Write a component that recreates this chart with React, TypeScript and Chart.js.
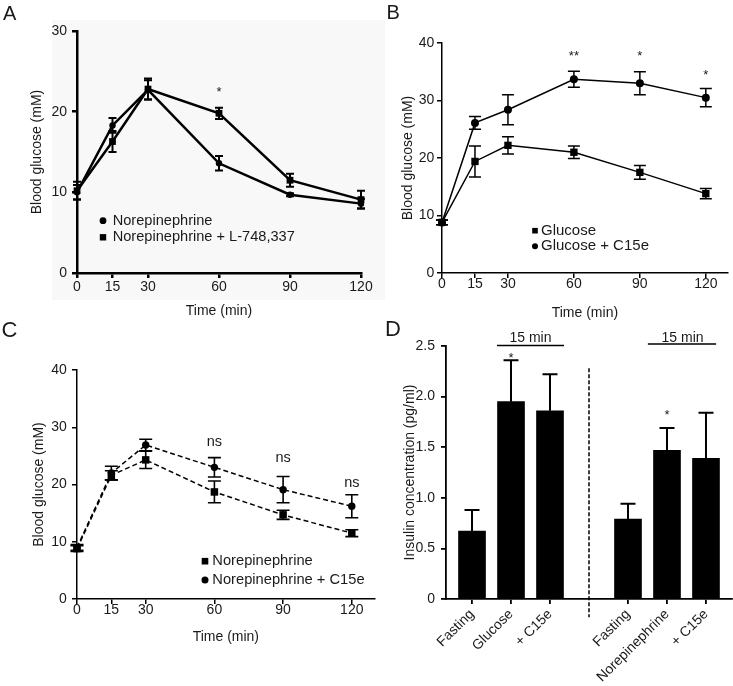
import React, { useEffect, useRef } from 'react';
import { Chart, registerables } from 'chart.js';

Chart.register(...registerables);

const FONT = '"Liberation Sans", Arial, Helvetica, sans-serif';
const TEXT = '#1a1a1a';

// ---------- shared ----------
const timeTicks = [0, 15, 30, 60, 90, 120];
const glucoseTitle = 'Blood glucose (mM)';
const timeTitle = 'Time (min)';

// ---------- Panel A ----------
const timesA = [0, 15, 30, 60, 90, 120];
const neA = [10.0, 18.3, 22.7, 13.6, 9.7, 8.6];
const neAErr = [0.9, 0.9, 1.2, 0.9, 0.2, 0.6];
const neLA = [10.2, 16.3, 22.8, 19.8, 11.5, 9.1];
const neLAErr = [1.1, 1.3, 1.3, 0.7, 0.8, 1.1];
const starsA_x = [60];
const starsA_y = [22.9];
const starsA_text = ['*'];

// ---------- Panel B ----------
const timesB = [0, 15, 30, 60, 90, 120];
const gluB = [8.8, 19.4, 22.2, 21.0, 17.5, 13.8];
const gluBErr = [0.4, 2.7, 1.5, 1.1, 1.2, 0.9];
const gluC15B = [8.8, 26.1, 28.4, 33.7, 33.0, 30.5];
const gluC15BErr = [0.4, 1.1, 2.6, 1.4, 2.0, 1.6];
const starsB_x = [60, 90, 120];
const starsB_y = [38.3, 38.3, 35.0];
const starsB_text = ['**', '*', '*'];

// ---------- Panel C ----------
const timesC = [0, 15, 30, 60, 90, 120];
const neC = [8.8, 21.6, 24.3, 18.7, 14.7, 11.5];
const neCErr = [0.5, 0.8, 1.5, 1.9, 0.8, 0.6];
const neC15C = [9.0, 22.0, 26.9, 23.0, 19.1, 16.2];
const neC15CErr = [0.5, 1.2, 1.0, 1.7, 2.3, 2.0];
const nsC_x = [60, 90, 120];
const nsC_y = [27.3, 24.6, 20.2];

// ---------- Panel D ----------
const labelsD = ['Fasting', 'Glucose', '+ C15e', '', 'Fasting', 'Norepinephrine', '+ C15e'];
const insulinD = [0.67, 1.95, 1.86, null, 0.79, 1.47, 1.39];
const insulinDErr = [0.21, 0.41, 0.36, null, 0.15, 0.22, 0.45];
const starsD_x = [1, 5];
const starsD_y = [2.42, 1.85];
const bracketD_x1 = [0.64, 4.51];
const bracketD_x2 = [2.36, 6.26];
const bracketD_y = [2.505, 2.52];
const bracketD_label = ['15 min', '15 min'];
const bracketD_labelX = [1.5, 5.4];
const bracketD_labelY = [2.585, 2.59];
const dividerD_x = 3;
const dividerD_y = [2.28, -0.18];
const yTicksD_step = 0.5;

// ---------- plugins ----------
function errorBarPlugin(cap: number, width: number, upOnly: boolean) {
  return {
    id: 'errorBars',
    afterDatasetsDraw(chart: any) {
      const ctx = chart.ctx;
      const xs = chart.scales.x;
      const ys = chart.scales.y;
      ctx.save();
      ctx.strokeStyle = '#000';
      ctx.lineWidth = width;
      chart.data.datasets.forEach((ds: any) => {
        if (!ds.errors) return;
        ds.data.forEach((pt: any, i: number) => {
          const e = ds.errors[i];
          if (e == null || pt.y == null) return;
          const x = xs.getPixelForValue(pt.x);
          const yTop = ys.getPixelForValue(pt.y + e);
          const yBot = ys.getPixelForValue(upOnly ? pt.y : pt.y - e);
          ctx.beginPath();
          ctx.moveTo(x, yTop);
          ctx.lineTo(x, yBot);
          ctx.moveTo(x - cap / 2, yTop);
          ctx.lineTo(x + cap / 2, yTop);
          if (!upOnly) {
            ctx.moveTo(x - cap / 2, yBot);
            ctx.lineTo(x + cap / 2, yBot);
          }
          ctx.stroke();
        });
      });
      ctx.restore();
    },
  };
}

type TextItem = { x: number; y: number; text: string; size: number; vc: number };
type LineItem = { x1: number; x2: number; y1: number; y2: number; width: number; dash?: number[] };

function annotationPlugin(texts: TextItem[], lines: LineItem[]) {
  return {
    id: 'annotations',
    afterDraw(chart: any) {
      const ctx = chart.ctx;
      const xs = chart.scales.x;
      const ys = chart.scales.y;
      ctx.save();
      ctx.strokeStyle = '#000';
      lines.forEach((l) => {
        ctx.lineWidth = l.width;
        ctx.setLineDash(l.dash || []);
        ctx.beginPath();
        ctx.moveTo(xs.getPixelForValue(l.x1), ys.getPixelForValue(l.y1));
        ctx.lineTo(xs.getPixelForValue(l.x2), ys.getPixelForValue(l.y2));
        ctx.stroke();
      });
      ctx.setLineDash([]);
      ctx.fillStyle = TEXT;
      ctx.textAlign = 'center';
      ctx.textBaseline = 'alphabetic';
      texts.forEach((t) => {
        ctx.font = `${t.size}px ${FONT}`;
        ctx.fillText(t.text, xs.getPixelForValue(t.x), ys.getPixelForValue(t.y) + t.vc * t.size);
      });
      ctx.restore();
    },
  };
}

type LegendCfg = {
  dx: number;
  dy: number;
  gap: number;
  textDx: number;
  size: number;
  items: { style: 'circle' | 'rect'; r: number; label: string }[];
};

function legendPlugin(cfg: LegendCfg) {
  return {
    id: 'customLegend',
    afterDraw(chart: any) {
      const ctx = chart.ctx;
      const { left, top } = chart.chartArea;
      ctx.save();
      cfg.items.forEach((it, i) => {
        const cx = left + cfg.dx;
        const cy = top + cfg.dy + i * cfg.gap;
        ctx.fillStyle = '#000';
        if (it.style === 'circle') {
          ctx.beginPath();
          ctx.arc(cx, cy, it.r, 0, Math.PI * 2);
          ctx.fill();
        } else {
          ctx.fillRect(cx - it.r, cy - it.r, it.r * 2, it.r * 2);
        }
        ctx.fillStyle = TEXT;
        ctx.font = `${cfg.size}px ${FONT}`;
        ctx.textAlign = 'left';
        ctx.textBaseline = 'middle';
        ctx.fillText(it.label, cx + cfg.textDx, cy);
      });
      ctx.restore();
    },
  };
}

// ---------- scale builders ----------
function yScale(o: {
  min: number; max: number; step: number; width: number; titlePad: number; tickPad: number;
  lw: number; title: string; fmt?: (v: number) => string;
}) {
  return {
    type: 'linear',
    min: o.min,
    max: o.max,
    ticks: {
      stepSize: o.step,
      padding: o.tickPad,
      color: TEXT,
      font: { size: 14, family: FONT },
      callback: o.fmt ? (v: any) => o.fmt!(Number(v)) : (v: any) => String(v),
    },
    grid: { display: true, drawOnChartArea: false, drawTicks: true, tickLength: 5, color: '#000', lineWidth: o.lw },
    border: { display: true, color: '#000', width: o.lw },
    title: {
      display: true,
      text: o.title,
      color: TEXT,
      font: { size: 14, family: FONT },
      padding: { top: o.titlePad, bottom: 0 },
    },
    afterFit: (s: any) => { s.width = o.width; },
  };
}

function xTimeScale(o: { max: number; height: number; titlePad: number; tickPad: number; lw: number }) {
  return {
    type: 'linear',
    min: 0,
    max: o.max,
    afterBuildTicks: (s: any) => { s.ticks = timeTicks.map((v) => ({ value: v })); },
    ticks: {
      padding: o.tickPad,
      autoSkip: false,
      maxRotation: 0,
      color: TEXT,
      font: { size: 14, family: FONT },
      callback: (v: any) => String(v),
    },
    grid: { display: true, drawOnChartArea: false, drawTicks: true, tickLength: 5, color: '#000', lineWidth: o.lw },
    border: { display: true, color: '#000', width: o.lw },
    title: {
      display: true,
      text: timeTitle,
      color: TEXT,
      font: { size: 14, family: FONT },
      padding: { top: 0, bottom: o.titlePad },
    },
    afterFit: (s: any) => { s.height = o.height; },
  };
}

function series(xs: number[], ys: number[]) {
  return xs.map((x, i) => ({ x, y: ys[i] }));
}

function lineDataset(data: any[], errors: number[], style: string, r: number, lw: number, dash: number[] = []) {
  return {
    data,
    errors,
    borderColor: '#000',
    backgroundColor: '#000',
    borderWidth: lw,
    borderDash: dash,
    pointStyle: style,
    pointRadius: r,
    pointHoverRadius: r,
    pointBackgroundColor: '#000',
    pointBorderColor: '#000',
    pointBorderWidth: 0,
    tension: 0,
    clip: false,
    fill: false,
  };
}

const baseOptions = {
  responsive: false,
  animation: false,
  events: [],
  plugins: { legend: { display: false }, tooltip: { enabled: false } },
};

// ---------- chart configs ----------
function configA(): any {
  return {
    type: 'line',
    data: {
      datasets: [
        lineDataset(series(timesA, neA), neAErr, 'circle', 3.2, 2.5),
        lineDataset(series(timesA, neLA), neLAErr, 'rect', 4.8, 2.5),
      ],
    },
    options: {
      ...baseOptions,
      layout: { padding: { left: 0, top: 31, right: 29, bottom: 0 } },
      scales: {
        x: xTimeScale({ max: 120, height: 57, titlePad: 10, tickPad: 1, lw: 2.5 }),
        y: yScale({ min: 0, max: 30, step: 10, width: 77, titlePad: 29, tickPad: 5, lw: 2.5, title: glucoseTitle }),
      },
    },
    plugins: [
      errorBarPlugin(8, 2, false),
      annotationPlugin(starsA_x.map((x, i) => ({ x, y: starsA_y[i], text: starsA_text[i], size: 13, vc: 0.57 })), []),
      legendPlugin({
        dx: 26, dy: 189.7, gap: 16.6, textDx: 9.7, size: 14.6,
        items: [
          { style: 'circle', r: 3.4, label: 'Norepinephrine' },
          { style: 'rect', r: 3.2, label: 'Norepinephrine + L-748,337' },
        ],
      }),
    ],
  };
}

function configB(): any {
  return {
    type: 'line',
    data: {
      datasets: [
        lineDataset(series(timesB, gluB), gluBErr, 'rect', 5.2, 1.5),
        lineDataset(series(timesB, gluC15B), gluC15BErr, 'circle', 4, 1.5),
      ],
    },
    options: {
      ...baseOptions,
      layout: { padding: { left: 0, top: 43, right: 2, bottom: 0 } },
      scales: {
        x: xTimeScale({ max: 130, height: 57, titlePad: 8.3, tickPad: -2.5, lw: 1.5 }),
        y: yScale({ min: 0, max: 40, step: 10, width: 72, titlePad: 29.3, tickPad: 2.7, lw: 1.5, title: glucoseTitle }),
      },
    },
    plugins: [
      errorBarPlugin(12, 1.5, false),
      annotationPlugin(starsB_x.map((x, i) => ({ x, y: starsB_y[i], text: starsB_text[i], size: 13, vc: 0.57 })), []),
      legendPlugin({
        dx: 93, dy: 187.7, gap: 15.5, textDx: 6, size: 15,
        items: [
          { style: 'rect', r: 2.8, label: 'Glucose' },
          { style: 'circle', r: 3, label: 'Glucose + C15e' },
        ],
      }),
    ],
  };
}

function configC(): any {
  return {
    type: 'line',
    data: {
      datasets: [
        lineDataset(series(timesC, neC), neCErr, 'rect', 5.3, 1.5, [5, 3]),
        lineDataset(series(timesC, neC15C), neC15CErr, 'circle', 3.7, 1.5, [5, 3]),
      ],
    },
    options: {
      ...baseOptions,
      layout: { padding: { left: 0, top: 50, right: 2, bottom: 30 } },
      scales: {
        x: xTimeScale({ max: 130, height: 57, titlePad: 10.9, tickPad: -2, lw: 1.5 }),
        y: yScale({ min: 0, max: 40, step: 10, width: 77, titlePad: 30.6, tickPad: 5.3, lw: 1.5, title: glucoseTitle }),
      },
    },
    plugins: [
      errorBarPlugin(13, 1.6, false),
      annotationPlugin(nsC_x.map((x, i) => ({ x, y: nsC_y[i], text: 'ns', size: 14.5, vc: 0.26 })), []),
      legendPlugin({
        dx: 128, dy: 191.2, gap: 18.8, textDx: 7.3, size: 14.7,
        items: [
          { style: 'rect', r: 3.3, label: 'Norepinephrine' },
          { style: 'circle', r: 3.5, label: 'Norepinephrine + C15e' },
        ],
      }),
    ],
  };
}

function configD(): any {
  const texts: TextItem[] = [
    ...starsD_x.map((x, i) => ({ x, y: starsD_y[i], text: '*', size: 13, vc: 0.57 })),
    ...bracketD_label.map((t, i) => ({ x: bracketD_labelX[i], y: bracketD_labelY[i], text: t, size: 14, vc: 0.36 })),
  ];
  const lines: LineItem[] = [
    ...bracketD_x1.map((x1, i) => ({ x1, x2: bracketD_x2[i], y1: bracketD_y[i], y2: bracketD_y[i], width: 1.3 })),
    { x1: dividerD_x, x2: dividerD_x, y1: dividerD_y[0], y2: dividerD_y[1], width: 1.5, dash: [4, 2] },
  ];
  return {
    type: 'bar',
    data: {
      datasets: [
        {
          data: labelsD.map((_, i) => ({ x: i, y: insulinD[i] })),
          errors: insulinDErr,
          backgroundColor: '#000',
          borderWidth: 0,
          barThickness: 27,
        },
      ],
    },
    options: {
      ...baseOptions,
      layout: { padding: { left: 0, top: 16, right: 1, bottom: 0 } },
      scales: {
        x: {
          type: 'linear',
          min: -0.667,
          max: 6.667,
          offset: false,
          afterBuildTicks: (s: any) => {
            s.ticks = labelsD.map((l, i) => ({ value: i, l })).filter((t) => t.l !== '').map((t) => ({ value: t.value }));
          },
          ticks: {
            autoSkip: false,
            minRotation: 45,
            maxRotation: 45,
            padding: 2,
            color: TEXT,
            font: { size: 14, family: FONT },
            callback: (v: any) => labelsD[Math.round(Number(v))] ?? '',
          },
          grid: { display: true, offset: false, drawOnChartArea: false, drawTicks: true, tickLength: 5, color: '#000', lineWidth: 1.8 },
          border: { display: true, color: '#000', width: 1.8 },
          afterFit: (s: any) => { s.height = 87; },
        },
        y: yScale({
          min: 0, max: 2.5, step: yTicksD_step, width: 76, titlePad: 31.6, tickPad: 6, lw: 1.8,
          title: 'Insulin concentration (pg/ml)',
          fmt: (v) => (v === 0 ? '0' : v.toFixed(1)),
        }),
      },
    },
    plugins: [errorBarPlugin(15, 2, true), annotationPlugin(texts, lines)],
  };
}

// ---------- components ----------
function Panel(props: { left: number; top: number; width: number; height: number; make: () => any }) {
  const ref = useRef<HTMLCanvasElement>(null);
  useEffect(() => {
    const chart = new Chart(ref.current as HTMLCanvasElement, props.make());
    return () => chart.destroy();
  }, []);
  return (
    <div style={{ position: 'absolute', left: props.left, top: props.top, width: props.width, height: props.height }}>
      <canvas
        ref={ref}
        width={props.width}
        height={props.height}
        style={{ display: 'block', width: props.width, height: props.height }}
      />
    </div>
  );
}

function Letter(props: { text: string; left: number; top: number; size: number }) {
  return (
    <div
      style={{
        position: 'absolute',
        left: props.left,
        top: props.top,
        fontSize: props.size,
        lineHeight: `${props.size}px`,
        fontFamily: FONT,
        color: TEXT,
      }}
    >
      {props.text}
    </div>
  );
}

export default function App() {
  return (
    <div
      style={{
        position: 'absolute',
        left: 0,
        top: 0,
        width: 733,
        height: 686,
        background: '#fff',
        overflow: 'hidden',
        fontFamily: FONT,
      }}
    >
      <div style={{ position: 'absolute', left: 52, top: 20, width: 333, height: 280, background: '#f8f8f8' }} />
      <Panel left={0} top={0} width={390} height={330} make={configA} />
      <Panel left={370} top={0} width={363} height={330} make={configB} />
      <Panel left={0} top={320} width={380} height={366} make={configC} />
      <Panel left={370} top={330} width={363} height={356} make={configD} />
      <Letter text="A" left={3} top={2.6} size={20} />
      <Letter text="B" left={386.4} top={1.6} size={20} />
      <Letter text="C" left={1.6} top={318.9} size={22} />
      <Letter text="D" left={385} top={318.4} size={22} />
    </div>
  );
}
